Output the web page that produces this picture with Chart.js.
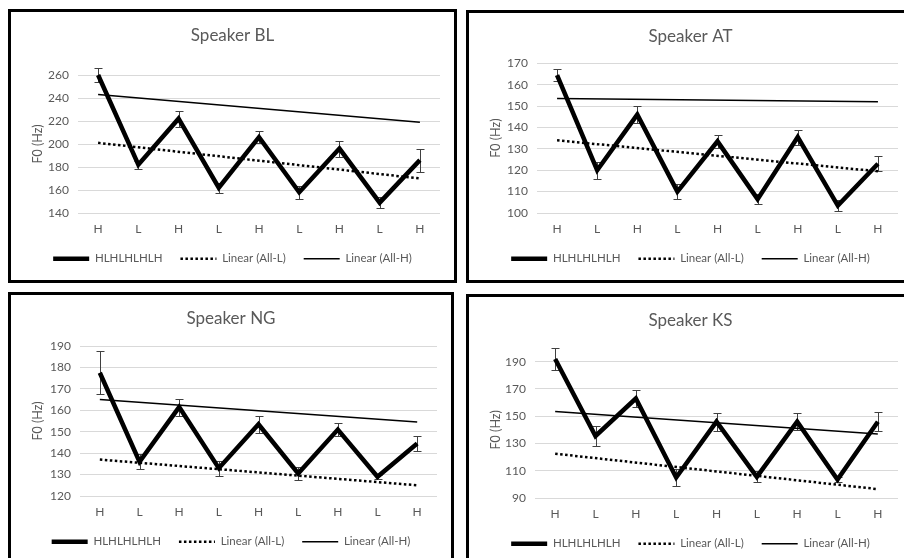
<!DOCTYPE html>
<html>
<head>
<meta charset="utf-8">
<script src="https://cdn.jsdelivr.net/npm/chart.js@4"></script>
<style>
  body { margin: 0; background: #fff; width: 904px; height: 558px; overflow: hidden; position: relative; }
  .panel { position: absolute; border: 3px solid #000; box-sizing: border-box; background: #fff; overflow: hidden; }
  .panel canvas { display: block; }
</style>
</head>
<body>
<div class="panel" style="left:8px;top:9px;width:449px;height:274px"><canvas id="chart-bl" width="443" height="268"></canvas></div>
<div class="panel" style="left:466px;top:10px;width:449px;height:273px"><canvas id="chart-at" width="443" height="267"></canvas></div>
<div class="panel" style="left:8px;top:292px;width:446px;height:274px"><canvas id="chart-ng" width="440" height="268"></canvas></div>
<div class="panel" style="left:466px;top:294px;width:449px;height:274px"><canvas id="chart-ks" width="443" height="268"></canvas></div>
<script>
// Tone pattern on the x axis
const categories = ['H', 'L', 'H', 'L', 'H', 'L', 'H', 'L', 'H'];

// Speaker BL
const blMeans = [260, 182, 222, 162, 206, 158, 196, 149, 186];
const blErrors = [6.5, 3.5, 7, 4.5, 5, 5.5, 7, 4.5, 10];
const blTrendL = [201, 170];   // start, end
const blTrendH = [243, 219];
const blTicks = [140, 260, 20]; // min, max, step

// Speaker AT
const atMeans = [164.5, 120, 146, 110, 133.5, 106.5, 135.5, 103.5, 123];
const atErrors = [3, 4, 4, 3.5, 3, 2.5, 3.5, 2.5, 3.5];
const atTrendL = [134, 119.5];
const atTrendH = [153.5, 152];
const atTicks = [100, 170, 10];

// Speaker NG
const ngMeans = [177.5, 136, 161.5, 133, 153.5, 130.5, 151, 129, 144.5];
const ngErrors = [10, 3.5, 4, 3.5, 4, 3, 3, 1, 3.5];
const ngTrendL = [137, 125];
const ngTrendH = [165, 154.5];
const ngTicks = [120, 190, 10];

// Speaker KS
const ksMeans = [192, 135.5, 163, 105, 146, 105.5, 146, 103.5, 146];
const ksErrors = [8, 7, 6.5, 6, 6.5, 4, 6, 2, 7];
const ksTrendL = [122.5, 96.5];
const ksTrendH = [153.5, 137];
const ksTicks = [90, 190, 20];

const legendLabels = ['HLHLHLHLH', 'Linear (All-L)', 'Linear (All-H)'];
const textColor = '#595959';
const fontFamily = 'Lato, "Open Sans", sans-serif';

// Draws the +/- error bars of the first dataset
const errorBarPlugin = {
  id: 'errorBars',
  beforeDatasetsDraw(chart) {
    const ds = chart.data.datasets[0];
    const xs = chart.scales.x, ys = chart.scales.y;
    const ctx = chart.ctx;
    ctx.save();
    ctx.strokeStyle = '#404040';
    ctx.lineWidth = 1;
    ds.data.forEach((v, i) => {
      const e = ds.errors[i];
      const px = Math.round(xs.getPixelForValue(i)) + 0.5;
      const top = Math.round(ys.getPixelForValue(v + e)) + 0.5;
      const bot = Math.round(ys.getPixelForValue(v - e)) + 0.5;
      ctx.beginPath();
      ctx.moveTo(px, top); ctx.lineTo(px, bot);
      ctx.moveTo(px - 4, top); ctx.lineTo(px + 4, top);
      ctx.moveTo(px - 4, bot); ctx.lineTo(px + 4, bot);
      ctx.stroke();
    });
    ctx.restore();
  }
};

// Trend line: only the two end values, the library joins them
function trendData(ends) {
  return categories.map((c, i) => i === 0 ? ends[0] : (i === categories.length - 1 ? ends[1] : null));
}

function makeChart(canvasId, title, means, errors, trendL, trendH, ticks, areaLeft, areaTop) {
  const ctx = document.getElementById(canvasId).getContext('2d');
  new Chart(ctx, {
    type: 'line',
    data: {
      labels: categories,
      datasets: [
        { label: legendLabels[0], data: means, errors: errors, borderColor: '#000', borderWidth: 4.5,
          borderJoinStyle: 'miter', pointRadius: 0, tension: 0, clip: false },
        { label: legendLabels[1], data: trendData(trendL), borderColor: '#000', borderWidth: 2.5,
          borderDash: [2.5, 2.5], pointRadius: 0, spanGaps: true, clip: false },
        { label: legendLabels[2], data: trendData(trendH), borderColor: '#000', borderWidth: 1.5,
          pointRadius: 0, spanGaps: true, clip: false }
      ]
    },
    options: {
      responsive: false,
      animation: false,
      layout: { padding: { left: 14, right: 14, top: 0, bottom: 5.5 } },
      scales: {
        x: {
          offset: true,
          grid: { display: false, drawTicks: false },
          border: { display: false },
          ticks: { color: textColor, padding: 9, font: { family: fontFamily, size: 12 } },
          afterFit: (s) => { s.height = 22; }
        },
        y: {
          min: ticks[0], max: ticks[1],
          grid: { color: '#d9d9d9', drawTicks: false },
          border: { display: false },
          ticks: { stepSize: ticks[2], color: textColor, padding: 9, font: { family: fontFamily, size: 12 } },
          title: { display: true, text: 'F0 (Hz)', color: textColor, padding: { top: 5.5, bottom: 0 },
                   font: { family: fontFamily, size: 12.5 } },
          afterFit: (s) => { s.width = areaLeft - 14; }
        }
      },
      plugins: {
        title: { display: true, text: title, color: textColor,
                 font: { family: fontFamily, size: 17, weight: 'normal' },
                 padding: { top: 13, bottom: areaTop - 13 - 20.4 } },
        legend: {
          position: 'bottom',
          labels: {
            color: textColor, padding: 18, usePointStyle: true, pointStyle: 'line', pointStyleWidth: 36,
            font: { family: fontFamily, size: 11.5 },
            generateLabels: (chart) => chart.data.datasets.map((d, i) => ({
              text: d.label, strokeStyle: '#000', fillStyle: '#000', fontColor: textColor,
              lineWidth: d.borderWidth, lineDash: d.borderDash || [], pointStyle: 'line', datasetIndex: i
            }))
          }
        },
        tooltip: { enabled: false }
      }
    },
    plugins: [errorBarPlugin]
  });
}

makeChart('chart-bl', 'Speaker BL', blMeans, blErrors, blTrendL, blTrendH, blTicks, 67, 63);
makeChart('chart-at', 'Speaker AT', atMeans, atErrors, atTrendL, atTrendH, atTicks, 68, 50.3);
makeChart('chart-ng', 'Speaker NG', ngMeans, ngErrors, ngTrendL, ngTrendH, ngTicks, 69, 51);
makeChart('chart-ks', 'Speaker KS', ksMeans, ksErrors, ksTrendL, ksTrendH, ksTicks, 66, 64.7);
</script>
</body>
</html>
